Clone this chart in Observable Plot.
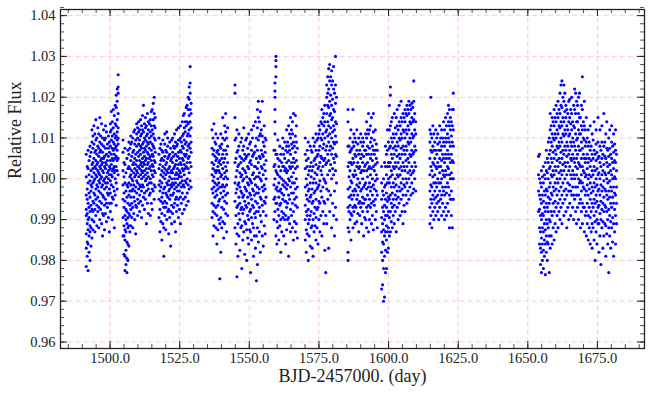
<!DOCTYPE html>
<html><head><meta charset="utf-8">
<script src="https://cdn.jsdelivr.net/npm/d3@7"></script>
<script src="https://cdn.jsdelivr.net/npm/@observablehq/plot@0.6"></script>
<style>
body{margin:0;background:#fff}
#chart svg, #chart svg text{font-family:"Liberation Serif","DejaVu Serif",serif !important}
</style>
</head><body><div id="chart"></div>
<script>
// Each column: [BJD-2457000 day, flux deviations in ppt (flux = 1 + v/1000) ...]
const seg1 = [[1491.45,-21.5,-17,-13.5,-9,-7.5,-4,0.5,6],[1491.8,-19,-15.5,-11,-8.5,-5,-2.5,3],[1492.1,-22.5,-16,-12.5,-10,-6,-1,2.5,7],[1492.45,-18,-14,-9.5,-7,-3.5,1,4.5],[1492.8,-20,-13,-11.5,-8,-4.5,-0.5,5.5,8],[1493.15,-16.5,-12,-6.5,-3,-1.5,2,6.5],[1493.5,-14.5,-10,-7.5,-2,0.5,3.5,9,12],[1493.85,-12.5,-8,-5.5,-1,2.5,4,7.5,10.5],[1494.2,-10.5,-6,-3.5,-0.5,1.5,5,8.5,13],[1494.55,-13,-7.5,-4,0,3,6.5,11],[1494.9,-9,-5,-2.5,1,2.5,4.5,7,9.5,14.5],[1495.25,-11.5,-6.5,-1.5,0.5,3.5,6,10],[1495.6,-8,-4.5,-2,2,4,8,12.5],[1495.95,-12,-7,-3,-0.5,1.5,5.5,7.5,11],[1496.3,-10,-5.5,-1,1,3,6.5,9,15],[1496.6,-7.5,-3.5,0,2.5,4.5,7,10.5],[1496.95,-11,-6,-2,0.5,3.5,5,8.5,13.5],[1497.3,-14,-8.5,-4,-1.5,2,4,6.5,10],[1497.65,-9,-4.5,-0.5,1.5,5,8,12],[1498.0,-12.5,-6.5,-2.5,0,3,5.5,9.5],[1498.35,-8.5,-5,-1,2.5,4,7.5,10,13],[1498.7,-10.5,-6,-2,0.5,3.5,6,11.5],[1499.05,-7,-3.5,-1,1.5,4.5,8.5],[1499.4,-9.5,-4,0,2,5.5,7.5,10.5],[1499.75,-13,-6,-2.5,1,3,6.5,9],[1500.1,-8,-3.5,-0.5,2.5,4.5,8,11.5,13.5],[1500.45,-6,-1.5,1,3.5,6,9.5,12,16.5],[1500.8,-10,-4.5,0.5,2,5,7.5,10.5,14],[1501.15,-5,-2,2.5,4.5,7,9,12.5,17],[1501.5,-12,-3,1.5,3,6,8.5,11,15.5],[1501.85,-4,0,2,5,7.5,10,13.5,18],[1502.2,-6.5,-1,3,5.5,8,10.5,13,17.5,20.5],[1502.55,-2.5,2,4.5,7,9.5,11.5,14.5,19,22],[1502.9,1,5,8.5,10,12.5,16,21,22.5,25.5]];
const seg2 = [[1504.65,-14,-9.5,-5,-1.5,2,6.5,9.5],[1505.0,-18.5,-14,-11.5,-7,-3.5,0.5,4],[1505.35,-22.5,-19,-15,-12.5,-9,-5.5,-1,3.5,7.5],[1505.7,-21,-17.5,-13,-10,-7.5,-3,1.5],[1506.05,-23,-19.5,-15.5,-11,-8,-4.5,-1.5,5],[1506.4,-20,-16,-12,-9.5,-6,-2,2.5,7],[1506.75,-16.5,-11.5,-8.5,-4,-1,3,6,9],[1507.1,-13,-9,-6.5,-3,0.5,2.5,7.5],[1507.45,-11.5,-7.5,-4.5,-1.5,1,4.5,8.5,10.5],[1507.8,-9.5,-6,-3,0,2,5.5,9],[1508.15,-12,-7,-2.5,-0.5,3.5,6.5,10],[1508.5,-8.5,-4.5,-1.5,1.5,4,7,11.5],[1508.85,-10,-5.5,-3,0.5,2.5,5,8.5,12],[1509.2,-13.5,-6.5,-2,1,3.5,6,9.5],[1509.55,-7,-3.5,-0.5,2,4.5,8,11,13.5],[1509.9,-9,-5,-1,1.5,3,6.5,10,12.5],[1510.25,-6,-2.5,0.5,3,5.5,8.5,11.5,14],[1510.6,-8,-4,-1.5,2.5,4.5,7,9.5,12],[1510.95,-5.5,-2,1,3.5,6,8,10.5,14.5],[1511.3,-9.5,-3,0,2,4,7.5,11,13],[1511.65,-6.5,-1.5,1.5,3,5,8.5,12,15.5],[1512.0,-4.5,-2,0.5,4,6.5,9,11.5,18],[1512.35,-7.5,-3.5,2,3.5,5.5,7.5,10,13.5],[1512.7,-5,-0.5,1,4.5,7,9.5,12.5,15],[1513.05,-11,-3,0,2.5,5,8,10.5,13],[1513.4,-6,-1.5,1.5,3.5,6.5,9,11,16],[1513.75,-8.5,-2.5,0.5,4,6,8.5,12,14],[1514.1,-4,-1,2.5,5,7.5,10,13.5],[1514.45,-9,-3.5,0,3,5.5,9,11.5,14.5],[1514.8,-6,-1,2,4.5,7,10.5,13,16.5],[1515.15,-7.5,-2.5,1,3.5,6,8.5,12,17],[1515.5,-3,0.5,3,5.5,8,11,14.5,18.5],[1515.85,-5,-1.5,2,4.5,7.5,10,13,16,20],[1516.2,-2,1.5,4,6.5,9.5,12.5,15]];
const seg3 = [[1517.55,-9.5,-5,-1.5,2.5,6,10],[1517.9,-13,-7.5,-3,-0.5,3.5,7.5],[1518.25,-10.5,-5.5,-2,1,4.5,8.5],[1518.6,-15,-8.5,-4.5,-1,2,5,7],[1518.95,-11,-6,-3.5,0.5,3,6.5,9.5],[1519.3,-19,-12,-7,-2.5,1.5,4.5],[1519.65,-9,-5.5,-2,0,2.5,5.5,8.5,11],[1520.0,-12.5,-7,-3.5,1,3.5,7],[1520.35,-10,-6,-4,-1,2,4,6.5,11.5],[1520.7,-8,-4.5,-1.5,1.5,5,8,10],[1521.05,-13.5,-7.5,-3,-0.5,2.5,5.5],[1521.4,-9.5,-5,-2.5,0.5,3,6,9],[1521.75,-16.5,-8,-4,-1.5,1.5,4.5,7.5],[1522.1,-11,-6.5,-2,0,2,5,9.5],[1522.45,-8.5,-4,-1,1.5,4,6.5,10],[1522.8,-7,-3.5,-1.5,2.5,5.5,8],[1523.15,-10.5,-6,-2.5,0,3,7.5,11],[1523.5,-13,-5,-1,1,3.5,6,9],[1523.85,-8,-4.5,-2,1.5,4.5,8,12],[1524.2,-6.5,-3,0,2.5,5.5,8.5],[1524.55,-9.5,-5,-1.5,1,3.5,6.5,9.5,12.5],[1524.9,-7.5,-3,0.5,2,5,9.5],[1525.25,-11,-4.5,-1,1.5,4,7,10,13],[1525.6,-6,-2,0.5,3.5,6.5,9],[1525.95,-8.5,-3.5,-0.5,2.5,5,8,10.5,14],[1526.3,-5,-1.5,2,4.5,7.5,11,15.5],[1526.65,-7.5,-2,1,3.5,6,9.5,12.5,16],[1527.0,-4.5,-0.5,2.5,5.5,8.5,11.5,14],[1527.35,-6.5,-1,3,6,9,13,17.5],[1527.7,-3.5,0,4,7,10.5,14,18],[1528.05,-5.5,-1.5,2.5,5,8,11,13.5,17,20],[1528.4,-2.5,1.5,5.5,8.5,12,15.5,19.5,22.5],[1528.75,-0.5,4,7.5,10.5,14,17,21,23.5,27.5],[1529.1,-2,3,6.5,9,12.5,16,18.5]];
const seg4 = [[1536.6,-9.5,-6,-2.5,1,4,7.5,12],[1536.95,-14,-8,-3.5,-0.5,2.5,6,10],[1537.3,-11.5,-6.5,-2,0.5,3.5,7,13.5],[1537.65,-8.5,-4.5,-1,2,5.5,9],[1538.0,-12,-7,-3,1.5,4.5,8.5,11],[1538.35,-16,-9,-4,-1.5,2,5,6.5],[1538.7,-12.5,-6.5,-2.5,0,3,7,10],[1539.05,-10,-5.5,-1,2,4,6],[1539.4,-24.5,-11,-5,-2,1.5,4.5,8],[1539.75,-18,-9.5,-3.5,0.5,3.5,7.5,11],[1540.1,-12,-7,-2,1,5,8.5],[1540.45,-10.5,-4.5,-1.5,2.5,6,10,15],[1540.8,-14.5,-7.5,-3,0,4,7],[1541.15,-11,-5.5,-2,1.5,5,9.5,13],[1541.5,-8.5,-4,0.5,3,7,11.5,16],[1541.85,-13,-6,-1.5,2,6,10],[1542.2,-9,-3.5,0,4,8,12.5]];
const seg5 = [[1544.85,-12,-5.5,-1,4,9.5,15,21,23],[1545.2,-16,-9,-3.5,0.5,5,10],[1545.55,-24,-13.5,-7,-2.5,2,6.5,12],[1545.9,-19,-11,-6.5,-1.5,3,7],[1546.25,-14,-8.5,-4.5,-1,3.5,8,11],[1546.6,-17.5,-10,-6,-2,1.5,5.5],[1546.95,-12,-7.5,-3,0.5,4,9],[1547.3,-22,-11.5,-7,-3.5,1,5,10],[1547.65,-15,-8.5,-4.5,-0.5,2.5,7],[1548.0,-13,-7.5,-4,0,4.5,8,12.5],[1548.35,-18.5,-10.5,-5.5,-2,2,6],[1548.7,-11,-6.5,-2.5,1.5,5,9.5],[1549.05,-20,-12.5,-7,-3,0.5,5.5,10],[1549.4,-14.5,-9,-4.5,-1,3,7.5],[1549.75,-16,-10,-6,-1.5,2.5,6,11],[1550.1,-12.5,-8,-3.5,0,4,8.5],[1550.45,-23,-13,-7.5,-4,-0.5,4.5,9],[1550.8,-15,-9.5,-5,-1,3.5,7,12],[1551.15,-11,-6.5,-2.5,1,5.5,10],[1551.5,-19,-12,-7,-3,1.5,6,13],[1551.85,-14,-8.5,-4,0,3,6.5],[1552.2,-17,-9.5,-5.5,-1.5,3,8,14],[1552.55,-25,-14,-8,-3.5,0.5,5,10],[1552.9,-21,-12,-6,-2,2.5,7,12.5,17],[1553.25,-15.5,-8,-3.5,0.5,4,9.5,15,19],[1553.6,-13,-7,-2.5,1.5,5.5,10.5,14],[1553.95,-18,-9,-4.5,0,5,11,16.5],[1554.3,-10.5,-5,-0.5,3,7,12],[1554.65,-14,-6.5,-2,2.5,6,10.5,19],[1555.0,-16.5,-8,-3,1,5.5,9],[1555.35,-11.5,-5.5,-1.5,3.5,8,13],[1555.7,-13.5,-6,-2.5,2,6.5,10],[1556.0,-9,-4.5,0,4.5,9.5]];
const seg6 = [[1558.85,-10,-5,-1.5,3,7],[1559.2,-8,-4.5,0,3.5,7,11,14,17,20,21.5,23.5],[1559.55,-14,-6,-2.5,2,6,25,27.5,29,30],[1559.9,-16,-10.5,-6,-2,1.5,6],[1560.25,-12,-7.5,-3,1,5,9.5],[1560.6,-15,-9,-4.5,-1,3],[1560.95,-11.5,-6.5,-3,0.5,4.5,8],[1561.3,-18,-10,-6,-2.5,2,6],[1561.65,-13,-8,-3.5,0,4],[1562.0,-9.5,-5,-1.5,3,7.5,10],[1562.35,-14,-8.5,-4,-0.5,3,6],[1562.7,-10,-5.5,-2,2,5,9],[1563.05,-16,-9,-5.5,-1,2.5,7],[1563.4,-12.5,-7,-2.5,1.5,4,8,12],[1563.75,-10,-6,-1.5,2,6.5,9],[1564.1,-19,-9.5,-4,0,4.5,8,13],[1564.45,-11,-5,-0.5,3,7,11],[1564.8,-13,-7.5,-2,2.5,6,10,15],[1565.15,-9,-3.5,0.5,4,8.5,12],[1565.5,-12,-6,-1,3,7.5,11,14],[1565.85,-15,-8,-3.5,1.5,5,9,16],[1566.2,-10.5,-5,-1,4,8],[1566.55,-13,-6.5,-2.5,2.5,6.5,10.5,15.5],[1566.9,-11,-4.5,0,4.5,9,13],[1567.25,-14.5,-7,-2,3,7.5]];
const seg7 = [[1570.1,-15,-10,-6.5,-2,2.5,6,10],[1570.45,-18,-12.5,-8,-4,0,4.5],[1570.8,-13.5,-9,-5,-1.5,3,7],[1571.15,-20,-11,-7.5,-3,1,5,9],[1571.5,-14,-10,-5.5,-2.5,2],[1571.85,-16.5,-9,-4.5,-1,3,8],[1572.2,-12,-8,-4,0.5,4,7],[1572.55,-17,-11.5,-6,-2.5,2,6.5],[1572.9,-19,-10,-5.5,-1,3,10],[1573.25,-13,-8.5,-3.5,0,4.5,8],[1573.6,-11.5,-7,-3,1.5,5,9],[1573.95,-15,-9.5,-5,-1,3.5,7,11],[1574.3,-12,-7.5,-2.5,1,5.5,9.5],[1574.65,-16,-7,-2,2.5,6,10],[1575.0,-10,-5.5,-1.5,3,7,11,13],[1575.35,-13,-6,-0.5,4,8,12],[1575.7,-9,-3,2,5.5,10,14],[1576.05,-14,-4.5,1,5,9.5,13.5,17],[1576.4,-8,-2,3,7.5,11,15],[1576.75,-11,-5.5,0,4.5,8.5,13,16],[1577.1,-17.5,-6,-0.5,5,10,14,18],[1577.45,-23,-9,-1,3.5,7,11.5],[1577.8,-11,-2.5,4,8,12,16,20,23],[1578.15,-5,1,6,10.5,14,18,21,25],[1578.5,-17,-3,4.5,9,13,17.5,22,27],[1578.85,-8,2,7,11,15.5,19,24,28],[1579.2,-4,3.5,8,12.5,16,20.5,25],[1579.55,-12,0,6,10,14.5,18,23,26.5],[1579.9,-6,2.5,7.5,11.5,15,19.5,24],[1580.25,-9,1,5,9,13,17,22,27.5],[1580.6,-14,-3,4,8.5,12,16.5,21],[1580.95,-7,2,6,10.5,14,18.5,23,30],[1581.3,-10,-1,5.5,9,13.5,20]];
const seg8 = [[1585.45,-20,-18,-12,-7,-2.5,3,8,14,17],[1585.8,-13,-8,-4.5,0.5,4,8],[1586.15,-10,-6.5,-2,2,6.5,10],[1586.5,-15,-8.5,-4,-0.5,4,7,12],[1586.85,-9,-5,-1,3.5,7.5],[1587.2,-12,-7,-3,1,5,9,17],[1587.55,-8,-4,0.5,4,8,11],[1587.9,-11,-6.5,-2.5,2,6,10],[1588.25,-7,-3,1,5.5,9],[1588.6,-10.5,-5,-1.5,3,7,12],[1588.95,-8.5,-4,0,4,8.5],[1589.3,-13,-6,-2,2.5,6,10],[1589.65,-9,-5.5,-1,3,7],[1590.0,-7,-3,1.5,5,9,11],[1590.35,-11,-6,-2.5,2,6],[1590.7,-8,-4.5,0,4,8,10],[1591.05,-14,-6,-2,2,5.5,9],[1591.4,-9.5,-5,-1.5,3,7],[1591.75,-10,-5,-1,3.5,7,11],[1592.1,-12,-7,-2.5,2,6,10,14],[1592.45,-8,-4,0.5,4,8,12],[1592.8,-13,-6.5,-2,2.5,6,11,16],[1593.15,-10,-5,-1,3,7.5,12],[1593.5,-7,-3,1,5,9,13],[1593.85,-11,-6,-2,2.5,6,10,15],[1594.2,-9,-4,0,4.5,8],[1594.55,-12.5,-5.5,-1.5,3,7,11.5,16],[1594.9,-6.5,-2.5,2,6,9.5],[1595.25,-10,-5,-0.5,3.5,7,12],[1595.6,-8,-3,1,5,8.5],[1595.95,-12,-4,0,4,7]];
const seg9 = [[1597.5,-27,-18,-13,-9.5,-5,-1,3],[1597.85,-26,-20,-15.5,-11,-7,-3],[1598.2,-30,-22,-16,-12.5,-8,-4,0],[1598.55,-29,-19,-14,-10,-6.5,-2,4],[1598.9,-23,-17.5,-13,-9,-5,-1.5,3,8],[1599.25,-22,-15,-11.5,-7,-3.5,1,6],[1599.6,-18,-13,-9,-5.5,-1,3,7,12],[1599.95,-17,-12,-8,-4.5,0,4,9],[1600.3,-14,-9.5,-5,-1,3,7.5,12,18],[1600.65,-13,-8,-4,0.5,4,8,13,20.5,22.5],[1601.0,-10.5,-6,-2,2,6,10,14],[1601.35,-12,-7,-3.5,1,5,9,15],[1601.7,-9,-5,-1,3,7.5,11],[1602.05,-11,-6.5,-2,2.5,6,10,16],[1602.4,-8,-4,0,4,8,12.5],[1602.75,-13,-5,-1.5,3,7,11,15],[1603.1,-7,-3,1,5.5,9,13,17],[1603.45,-10,-4.5,0.5,4,8,12],[1603.8,-6,-2,2.5,6,10,14,18],[1604.15,-9,-3,1,5,9.5,13],[1604.5,-5,-1,3,7.5,11,15,19],[1604.85,-8,-2.5,2,6,10,14],[1605.2,-11,-4,0,4,8,12,16],[1605.55,-6.5,-1.5,3,7,11.5,15],[1605.9,-8,-2,2,6,10,14,17],[1606.25,-4,0,4.5,8,12,16],[1606.6,-6,-1,3,7,11,15.5,18],[1606.95,-3,1.5,5,9,13,17],[1607.3,-5,0,4,8.5,12,16,19],[1607.65,-2,2,6,10,14,18],[1608.0,-4,1,5.5,9,13.5,17],[1608.35,-1,3,7,11,15,18.5],[1608.7,-3.5,1.5,6,10,14,17.5],[1609.05,-2.5,2,6.5,10.5,14.5,19,24],[1609.4,0,4,8,12,16],[1609.75,-3,3,7,11,14]];
const seg10 = [[1614.85,-11,-7,-3,1,5,9,12],[1615.2,-9,-5,-1.5,3,7,11,20],[1615.55,-12,-6,-2,2,6.5,10],[1615.9,-8,-4,0.5,4,8,13],[1616.25,-10,-5,-1,3.5,7,11],[1616.6,-7,-3,1,5,9],[1616.95,-9,-4.5,-1,3,7,12],[1617.3,-6,-2,2.5,6,10],[1617.65,-8,-4,0,4,8.5,11],[1618.0,-10,-5.5,-1,3,7],[1618.35,-7,-3,1.5,5,9,13],[1618.7,-5,-1,3,7,10],[1619.05,-9,-4,0,4.5,8,12],[1619.4,-6,-2,2,6,10],[1619.75,-8,-3,1,5,9,14],[1620.1,-10,-4,0.5,4,8,12],[1620.45,-7,-2,2,6,10,15],[1620.8,-9,-3.5,1,5,9,13],[1621.15,-6,-1,3,7,11,16],[1621.5,-8,-2,2.5,6,10,14,18],[1621.85,-12,-4,1,5,9,13,17],[1622.2,-5,0,4,8,12,15],[1622.55,-9,-3,1.5,6,10.5,14],[1622.9,-12,-5,0,4.5,9,13,17],[1623.25,-5,0,4,8,12,17,21]];
const seg11 = [[1653.85,-8,-3,1,5.5],[1654.2,-16,-12,-7.5,-4,0,6],[1654.55,-21,-17,-13,-9,-5,-1],[1654.9,-23,-18,-14.5,-10,-6,-2,2],[1655.25,-20,-16,-12,-8.5,-4,0.5],[1655.6,-22,-17.5,-13,-9,-5.5,-1,3],[1655.95,-19,-15,-11,-7,-3,1],[1656.3,-23.5,-16,-12.5,-8,-4,0,4],[1656.65,-18,-14,-10,-6,-2.5,2,7],[1657.0,-20,-15.5,-11,-7,-3,1.5,5],[1657.35,-16,-12,-8,-4.5,0,4,9],[1657.7,-23,-14,-10,-6,-2,2.5,6,10],[1658.05,-17,-10.5,-5,-1,3,7,12,16],[1658.4,-14,-8,-3.5,1,5,9,13],[1658.75,-16,-9,-4,0.5,4,8,11,15],[1659.1,-12,-6,-2,2,6.5,10,14],[1659.45,-15,-8,-3,1,5,9.5,13,17],[1659.8,-11,-5.5,-1,3,7,11,15],[1660.15,-13,-7,-2.5,2,6,10,14,18],[1660.5,-9,-4,0,4.5,8,12,16],[1660.85,-12,-6,-1,3,7.5,11,15,19],[1661.2,-8,-3,1.5,5,9,13,17],[1661.55,-10,-5,0,4,8,12.5,16,21],[1661.9,-7,-2,2,6.5,10,14,18,23],[1662.25,-11,-4,1,5,9,13,17.5,24],[1662.6,-6,-1,3.5,7,11,15,20],[1662.95,-9,-3,2,6,10.5,14,19,23],[1663.3,-5,0,4,8,12,16.5,21],[1663.65,-8,-2.5,3,7,11,15,18],[1664.0,-12,-4,1,5.5,9,13,17],[1664.35,-7,-1,4,8,12,16],[1664.7,-10,-3,2,6,10.5,14,19],[1665.05,-6,-1.5,3,7,11,15,19.5],[1665.4,-9,-3,1,5,9,13.5,17],[1665.75,-4,0,4.5,8,12,16,20],[1666.1,-7,-2,2,6,10,14],[1666.45,-10,-4,1,5,9,13,18]];
const seg12 = [[1666.8,-5,0,4,8,12.5,17,22],[1667.15,-8,-2,3,7,11,16,21],[1667.5,-11,-4,1,5,9.5,14,19],[1667.85,-7,-2,2.5,6,10,14,18],[1668.2,-10,-4,0,4,8,12,16,20],[1668.55,-6,-1,3.5,7,11,15,21],[1668.9,-12,-5,-0.5,3,7,11,15],[1669.25,-8,-3,1,5,9,13,18],[1669.6,-11,-6,-1,3,7.5,12,17,25],[1669.95,-7,-2,2,6,10,14],[1670.3,-13,-7,-2.5,1.5,5,9.5,13,19],[1670.65,-9,-4,0.5,4,8,12],[1671.0,-14,-8,-3,1,5,9,15],[1671.35,-11,-6,-1.5,2.5,6,10],[1671.7,-15,-9,-4,0,4,8,12],[1672.05,-12,-7,-2.5,1,5,9],[1672.4,-16,-9.5,-5,-1,3,7,13],[1672.75,-13,-8,-3.5,0.5,4.5,8],[1673.1,-17,-11,-6,-2,2,6,11],[1673.45,-12,-7,-3,1,5,9.5],[1673.8,-15,-9,-5,-1,3,7,14],[1674.15,-20,-10.5,-6,-2,2,6],[1674.5,-13,-8,-4,0,4.5,8.5,12],[1674.85,-16,-10,-5.5,-1.5,2.5,6.5],[1675.2,-11,-7,-3,1,5,9,15],[1675.55,-18,-11,-6.5,-2.5,1.5,5.5],[1675.9,-14,-8.5,-4,0,4,8,12],[1676.25,-21,-10,-5.5,-1.5,3,7],[1676.6,-12,-7.5,-3,1,5,9,13],[1676.95,-17,-10.5,-6,-2,2,6],[1677.3,-14,-8,-4.5,-0.5,3.5,8,16],[1677.65,-11,-6.5,-2.5,1.5,5.5,9],[1678.0,-19,-11.5,-7,-3,1,5,11],[1678.35,-13.5,-8,-4,0,4,7.5,14],[1678.7,-16,-10,-5,-1,3,7],[1679.05,-23,-12,-7.5,-3,1.5,5.5,10],[1679.4,-14,-9,-4.5,-0.5,3.5,7.5,12],[1679.75,-17,-10.5,-6,-2,2,6],[1680.1,-12,-7,-3,1,5,9,13],[1680.45,-15.5,-9.5,-4.5,0,4,8],[1680.8,-19,-11,-6,-2,2.5,6.5,11],[1681.15,-13,-7.5,-3.5,0.5,4.5,8.5],[1681.5,-16,-9,-4,0,4,7,12],[1681.85,-11,-6,-2,2,6]];

const xMajor = [1500, 1525, 1550, 1575, 1600, 1625, 1650, 1675];
const yMajor = [0.96, 0.97, 0.98, 0.99, 1.00, 1.01, 1.02, 1.03, 1.04];
const xLabel = "BJD-2457000. (day)";
const yLabel = "Relative Flux";

const segments = [seg1, seg2, seg3, seg4, seg5, seg6, seg7, seg8, seg9, seg10, seg11, seg12];
const points = [];
for (const seg of segments) for (const [day, ...vals] of seg) for (const v of vals) points.push({day, flux: 1 + v / 1000});

const xDomain = [1482.2, 1691.9];
const yDomain = [0.9584, 1.0415];
const xMinor = d3.range(1485, 1691, 5);
const yMinor = d3.range(0, 42).map(i => +(0.96 + i * 0.002).toFixed(3));

const FONT = "'Liberation Serif', 'DejaVu Serif', serif";
const W = 653, H = 398, mL = 60, mR = 9, mT = 9, mB = 50;
const pw = W - mL - mR, ph = H - mT - mB;
const gridStyle = {stroke: "#ff9a9a", strokeOpacity: 0.55, strokeDasharray: "5,3", strokeWidth: 0.9};
const tickMajor = {stroke: "#222", strokeWidth: 1};
const tickMinor = {stroke: "#222", strokeWidth: 0.8};

const chart = Plot.plot({
  width: W, height: H,
  marginLeft: mL, marginRight: mR, marginTop: mT, marginBottom: mB,
  style: {fontFamily: FONT, fontSize: "14px", color: "#222", background: "#fff"},
  x: {domain: xDomain},
  y: {domain: yDomain},
  marks: [
    Plot.ruleX(xMajor, gridStyle),
    Plot.ruleY(yMajor, gridStyle),
    Plot.dot(points, {x: "day", y: "flux", r: 1.55, fill: "#0000ff", stroke: "none"}),
    Plot.ruleX(xMajor, {...tickMajor, insetTop: ph - 7}),
    Plot.ruleX(xMajor, {...tickMajor, insetBottom: ph - 7}),
    Plot.ruleX(xMinor, {...tickMinor, insetTop: ph - 4}),
    Plot.ruleX(xMinor, {...tickMinor, insetBottom: ph - 4}),
    Plot.ruleY(yMajor, {...tickMajor, insetRight: pw - 7}),
    Plot.ruleY(yMajor, {...tickMajor, insetLeft: pw - 7}),
    Plot.ruleY(yMinor, {...tickMinor, insetRight: pw - 4}),
    Plot.ruleY(yMinor, {...tickMinor, insetLeft: pw - 4}),
    Plot.axisX({ticks: xMajor, tickFormat: d => d.toFixed(1), tickSize: 0, tickPadding: 4, label: null, fontSize: 14.5, fontFamily: FONT}),
    Plot.axisY({ticks: yMajor, tickFormat: d => d.toFixed(2), tickSize: 0, tickPadding: 5, label: null, fontSize: 14.5, fontFamily: FONT}),
    Plot.frame({stroke: "#222", strokeWidth: 1.3}),
    Plot.text([xLabel], {frameAnchor: "bottom", dy: 33, fontSize: 18, fontFamily: FONT, fill: "#222", text: d => d}),
    Plot.text([yLabel], {frameAnchor: "left", dx: -45, rotate: -90, fontSize: 18, fontFamily: FONT, fill: "#222", text: d => d})
  ]
});
document.getElementById("chart").appendChild(chart);
</script>
</body></html>
